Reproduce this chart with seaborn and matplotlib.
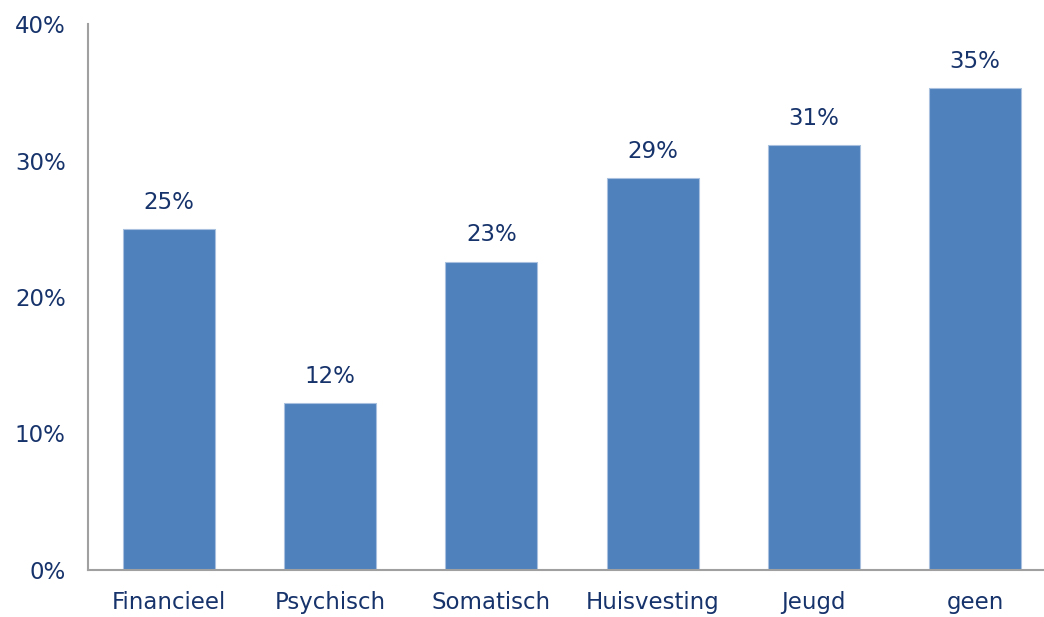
import matplotlib
matplotlib.use("Agg")
import matplotlib.pyplot as plt
import seaborn as sns
import pandas as pd

categories = ["Financieel", "Psychisch", "Somatisch", "Huisvesting", "Jeugd", "geen"]
values = [25.0, 12.2, 22.6, 28.7, 31.1, 35.3]
labels = ["25%", "12%", "23%", "29%", "31%", "35%"]
yticks = [0, 10, 20, 30, 40]

text_color = "#17336B"
bar_color = "#4F81BD"

sns.set_style("white")
plt.rcParams["font.family"] = ["DejaVu Sans"]

df = pd.DataFrame({"cat": categories, "val": values})

fig = plt.figure(figsize=(10.44, 6.17), dpi=100)
ax = fig.add_axes([88 / 1044, 47 / 617, 956 / 1044, 546 / 617])

sns.barplot(data=df, x="cat", y="val", color=bar_color, width=0.57,
            saturation=1, edgecolor="#A9C0DE", linewidth=0.8, ax=ax)

for i, (v, lab) in enumerate(zip(values, labels)):
    ax.text(i, v + 1.1, lab, ha="center", va="bottom", fontsize=16.5, color=text_color)

ax.set_xlim(-0.5, -0.5 + 956 / 161.3)
ax.set_ylim(0, 40)
ax.set_yticks(yticks)
ax.set_yticklabels([f"{t}%" for t in yticks])
ax.set_xlabel("")
ax.set_ylabel("")
ax.tick_params(axis="both", length=0, labelsize=16.5, labelcolor=text_color)
ax.tick_params(axis="y", pad=16)
ax.tick_params(axis="x", pad=15)

for s in ["top", "right"]:
    ax.spines[s].set_visible(False)
for s in ["left", "bottom"]:
    ax.spines[s].set_color("#A0A0A0")
    ax.spines[s].set_linewidth(1.5)

fig.savefig("out.png", dpi=100)
